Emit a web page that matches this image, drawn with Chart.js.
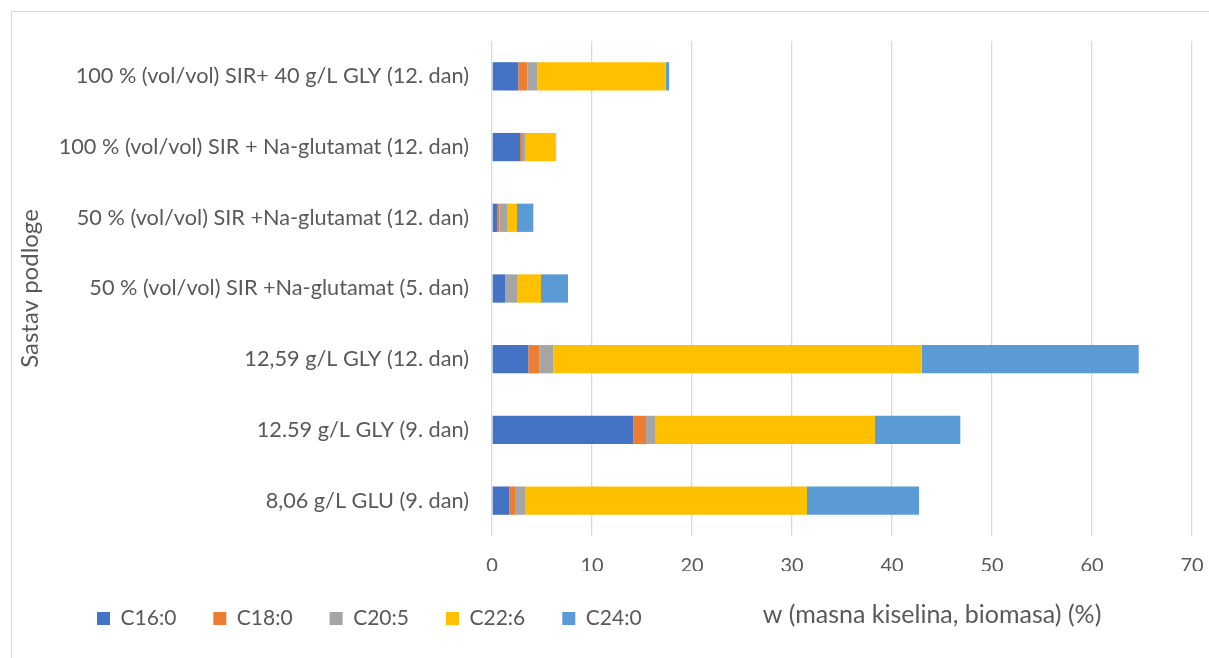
<!DOCTYPE html>
<html>
<head>
<meta charset="utf-8">
<script src="https://cdn.jsdelivr.net/npm/chart.js@4.4.0/dist/chart.umd.min.js"></script>
<style>
  html, body { margin: 0; padding: 0; background: #fff; overflow: hidden; }
  #frame { position: absolute; left: 11px; top: 11px; width: 1400px; height: 800px; border: 1.5px solid #d9d9d9; }
  #wrap { position: absolute; left: 0; top: 0; width: 1209px; height: 658px; }
</style>
</head>
<body>
<div id="frame"></div>
<div id="wrap"><canvas id="chart"></canvas></div>
<script>
const categories = [
    '100 % (vol/vol) SIR+ 40 g/L GLY (12. dan)',
    '100 % (vol/vol) SIR + Na-glutamat (12. dan)',
    '50 % (vol/vol) SIR +Na-glutamat (12. dan)',
    '50 % (vol/vol) SIR +Na-glutamat (5. dan)',
    '12,59 g/L GLY (12. dan)',
    '12.59 g/L GLY (9. dan)',
    '8,06 g/L GLU (9. dan)'
];
const c16_0 = [2.63, 2.8, 0.5, 1.3, 3.63, 14.13, 1.73];
const c18_0 = [0.9, 0.2, 0.23, 0, 1.1, 1.27, 0.57];
const c20_5 = [1.0, 0.3, 0.77, 1.27, 1.4, 0.9, 1.0];
const c22_6 = [12.85, 3.07, 1.0, 2.33, 36.84, 22.0, 28.2];
const c24_0 = [0.33, 0.05, 1.63, 2.7, 21.7, 8.53, 11.2];

const xTitle = 'w (masna kiselina, biomasa) (%)';
const yTitle = 'Sastav podloge';

const textColor = '#595959';
const fontFamily = 'Lato, "Open Sans", sans-serif';

// legend shift + x axis title on the same row as legend
const extras = {
    id: 'extras',
    beforeDraw(chart) {
        chart.legend.left = 60;
    },
    afterDraw(chart) {
        const ctx = chart.ctx;
        const x = chart.scales.x.getPixelForValue(44);
        ctx.save();
        ctx.fillStyle = textColor;
        ctx.font = '25px ' + fontFamily;
        ctx.textAlign = 'center';
        ctx.textBaseline = 'middle';
        ctx.fillText(xTitle, x, 615);
        ctx.restore();
    }
};

const ds = (label, data, color) => ({
    label, data, backgroundColor: color, borderWidth: 0,
    barPercentage: 0.5, categoryPercentage: 0.8
});

new Chart(document.getElementById('chart'), {
    type: 'bar',
    data: {
        labels: categories,
        datasets: [
            ds('C16:0', c16_0, '#4472C4'),
            ds('C18:0', c18_0, '#ED7D31'),
            ds('C20:5', c20_5, '#A5A5A5'),
            ds('C22:6', c22_6, '#FFC000'),
            ds('C24:0', c24_0, '#5B9BD5')
        ]
    },
    options: {
        indexAxis: 'y',
        responsive: true,
        maintainAspectRatio: false,
        animation: false,
        layout: { padding: { left: 12, right: 17, top: 41, bottom: 19 } },
        scales: {
            x: {
                stacked: true,
                min: 0,
                max: 70,
                ticks: { stepSize: 10, color: textColor, font: { family: fontFamily, size: 20 }, padding: 18 },
                grid: { color: '#d9d9d9', lineWidth: 1.3, drawTicks: false },
                border: { display: false },
                afterFit: s => { s.height = 35; s.paddingRight = 0; }
            },
            y: {
                stacked: true,
                ticks: { color: textColor, font: { family: fontFamily, size: 21.7 }, padding: 15 },
                grid: { display: false },
                border: { display: false },
                title: { display: true, text: yTitle, color: textColor, font: { family: fontFamily, size: 24 }, padding: { top: 4 } },
                afterFit: s => { s.width = 480; }
            }
        },
        plugins: {
            legend: {
                position: 'bottom',
                align: 'start',
                labels: { color: textColor, font: { family: fontFamily, size: 21 }, boxWidth: 13, boxHeight: 13, padding: 37 }
            },
            tooltip: { enabled: false }
        }
    },
    plugins: [extras]
});
</script>
</body>
</html>
